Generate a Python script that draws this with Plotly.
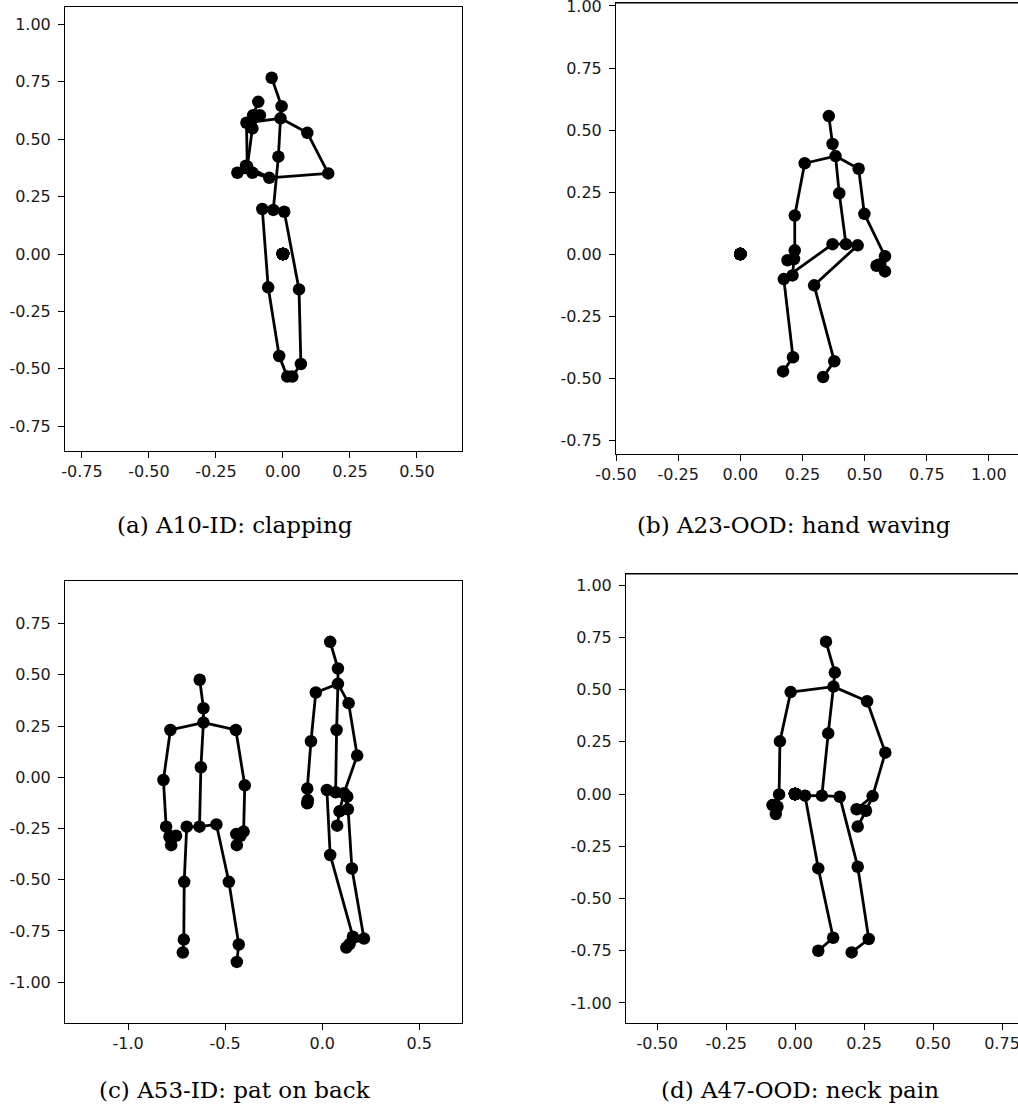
import plotly.graph_objects as go

# NTU RGB+D 25-joint skeleton bones (1-indexed joint pairs)
BONES = [(1, 2), (2, 21), (21, 3), (3, 4), (21, 5), (5, 6), (6, 7), (7, 8), (8, 22), (7, 23),
         (21, 9), (9, 10), (10, 11), (11, 12), (12, 24), (11, 25), (1, 13), (13, 14), (14, 15),
         (15, 16), (1, 17), (17, 18), (18, 19), (19, 20)]

# ---- (a) A10-ID: clapping ----
a_p1_x = [-0.036, -0.017, -0.005, -0.042, -0.136, -0.133, -0.114, -0.111, 0.091, 0.169,
          -0.051, -0.114, -0.077, -0.055, -0.014, 0.016, 0.005, 0.060, 0.067, 0.035,
          -0.009, -0.092, -0.086, -0.170, -0.138]
a_p1_y = [0.192, 0.424, 0.644, 0.768, 0.572, 0.380, 0.547, 0.605, 0.528, 0.351,
          0.332, 0.354, 0.196, -0.145, -0.444, -0.534, 0.184, -0.154, -0.479, -0.534,
          0.591, 0.663, 0.605, 0.354, 0.385]
a_p2_x = [0.0, 0.0, 0.0, 0.0, 0.0, 0.0, 0.0, 0.0, 0.0, 0.0, 0.0, 0.0, 0.0, 0.0, 0.0, 0.0,
          0.0, 0.0, 0.0, 0.0, 0.0, 0.0, 0.0, 0.0, 0.0]
a_p2_y = [0.0, 0.0, 0.0, 0.0, 0.0, 0.0, 0.0, 0.0, 0.0, 0.0, 0.0, 0.0, 0.0, 0.0, 0.0, 0.0,
          0.0, 0.0, 0.0, 0.0, 0.0, 0.0, 0.0, 0.0, 0.0]

# ---- (b) A23-OOD: hand waving ----
b_p1_x = [0.425, 0.398, 0.371, 0.356, 0.259, 0.219, 0.219, 0.216, 0.476, 0.499,
          0.582, 0.582, 0.371, 0.175, 0.212, 0.172, 0.472, 0.297, 0.378, 0.333,
          0.383, 0.210, 0.190, 0.548, 0.556]
b_p1_y = [0.040, 0.245, 0.444, 0.556, 0.366, 0.155, 0.015, -0.020, 0.344, 0.162,
          -0.009, -0.070, 0.040, -0.101, -0.416, -0.473, 0.035, -0.126, -0.432, -0.496,
          0.395, -0.086, -0.025, -0.047, -0.043]
b_p2_x = [0.0, 0.0, 0.0, 0.0, 0.0, 0.0, 0.0, 0.0, 0.0, 0.0, 0.0, 0.0, 0.0, 0.0, 0.0, 0.0,
          0.0, 0.0, 0.0, 0.0, 0.0, 0.0, 0.0, 0.0, 0.0]
b_p2_y = [0.0, 0.0, 0.0, 0.0, 0.0, 0.0, 0.0, 0.0, 0.0, 0.0, 0.0, 0.0, 0.0, 0.0, 0.0, 0.0,
          0.0, 0.0, 0.0, 0.0, 0.0, 0.0, 0.0, 0.0, 0.0]

# ---- (c) A53-ID: pat on back ----
c_p1_x = [-0.632, -0.625, -0.612, -0.631, -0.782, -0.818, -0.804, -0.787, -0.445, -0.399,
          -0.405, -0.421, -0.698, -0.711, -0.713, -0.718, -0.545, -0.481, -0.430, -0.440,
          -0.612, -0.778, -0.753, -0.440, -0.443]
c_p1_y = [-0.241, 0.049, 0.337, 0.476, 0.231, -0.013, -0.241, -0.290, 0.231, -0.039,
          -0.265, -0.285, -0.241, -0.510, -0.792, -0.855, -0.230, -0.510, -0.816, -0.901,
          0.267, -0.331, -0.285, -0.331, -0.277]
c_p2_x = [0.069, 0.074, 0.081, 0.041, -0.033, -0.058, -0.077, -0.077, 0.136, 0.180,
          0.112, 0.089, 0.024, 0.041, 0.158, 0.124, 0.129, 0.153, 0.215, 0.141,
          0.081, -0.077, -0.074, 0.077, 0.132]
c_p2_y = [-0.073, 0.231, 0.531, 0.661, 0.414, 0.176, -0.055, -0.124, 0.362, 0.106,
          -0.078, -0.166, -0.062, -0.379, -0.778, -0.831, -0.094, -0.445, -0.787, -0.814,
          0.456, -0.127, -0.111, -0.236, -0.156]

# ---- (d) A47-OOD: neck pain ----
d_p1_x = [0.097, 0.120, 0.144, 0.112, -0.016, -0.055, -0.058, -0.064, 0.261, 0.327,
          0.281, 0.257, 0.036, 0.084, 0.138, 0.084, 0.162, 0.227, 0.267, 0.205,
          0.139, -0.070, -0.082, 0.227, 0.223]
d_p1_y = [-0.008, 0.290, 0.581, 0.729, 0.488, 0.252, -0.002, -0.061, 0.444, 0.198,
          -0.010, -0.080, -0.008, -0.356, -0.688, -0.750, -0.013, -0.348, -0.694, -0.758,
          0.514, -0.096, -0.053, -0.156, -0.073]
d_p2_x = [0.0, 0.0, 0.0, 0.0, 0.0, 0.0, 0.0, 0.0, 0.0, 0.0, 0.0, 0.0, 0.0, 0.0, 0.0, 0.0,
          0.0, 0.0, 0.0, 0.0, 0.0, 0.0, 0.0, 0.0, 0.0]
d_p2_y = [0.0, 0.0, 0.0, 0.0, 0.0, 0.0, 0.0, 0.0, 0.0, 0.0, 0.0, 0.0, 0.0, 0.0, 0.0, 0.0,
          0.0, 0.0, 0.0, 0.0, 0.0, 0.0, 0.0, 0.0, 0.0]

# tick values / labels
a_xticks = [-0.75, -0.5, -0.25, 0.0, 0.25, 0.5]
a_xlabels = ["-0.75", "-0.50", "-0.25", "0.00", "0.25", "0.50"]
a_yticks = [-0.75, -0.5, -0.25, 0.0, 0.25, 0.5, 0.75, 1.0]
a_ylabels = ["-0.75", "-0.50", "-0.25", "0.00", "0.25", "0.50", "0.75", "1.00"]
b_xticks = [-0.5, -0.25, 0.0, 0.25, 0.5, 0.75, 1.0]
b_xlabels = ["-0.50", "-0.25", "0.00", "0.25", "0.50", "0.75", "1.00"]
b_yticks = [-0.75, -0.5, -0.25, 0.0, 0.25, 0.5, 0.75, 1.0]
b_ylabels = ["-0.75", "-0.50", "-0.25", "0.00", "0.25", "0.50", "0.75", "1.00"]
c_xticks = [-1.0, -0.5, 0.0, 0.5]
c_xlabels = ["-1.0", "-0.5", "0.0", "0.5"]
c_yticks = [-1.0, -0.75, -0.5, -0.25, 0.0, 0.25, 0.5, 0.75]
c_ylabels = ["-1.00", "-0.75", "-0.50", "-0.25", "0.00", "0.25", "0.50", "0.75"]
d_xticks = [-0.5, -0.25, 0.0, 0.25, 0.5, 0.75]
d_xlabels = ["-0.50", "-0.25", "0.00", "0.25", "0.50", "0.75"]
d_yticks = [-1.0, -0.75, -0.5, -0.25, 0.0, 0.25, 0.5, 0.75, 1.0]
d_ylabels = ["-1.00", "-0.75", "-0.50", "-0.25", "0.00", "0.25", "0.50", "0.75", "1.00"]

captions = ["(a) A10-ID: clapping", "(b) A23-OOD: hand waving",
            "(c) A53-ID: pat on back", "(d) A47-OOD: neck pain"]

W, H = 1018, 1107
fig = go.Figure()


def add_person(px, py, xa, ya):
    lx, ly = [], []
    for i, j in BONES:
        lx += [px[i - 1], px[j - 1], None]
        ly += [py[i - 1], py[j - 1], None]
    fig.add_trace(go.Scatter(x=lx, y=ly, mode="lines", line=dict(color="black", width=2.8),
                             xaxis=xa, yaxis=ya, hoverinfo="skip"))
    fig.add_trace(go.Scatter(x=px, y=py, mode="markers", marker=dict(color="black", size=12.5),
                             xaxis=xa, yaxis=ya))


panels = [
    ("x", "y", [(a_p1_x, a_p1_y), (a_p2_x, a_p2_y)]),
    ("x2", "y2", [(b_p1_x, b_p1_y), (b_p2_x, b_p2_y)]),
    ("x3", "y3", [(c_p1_x, c_p1_y), (c_p2_x, c_p2_y)]),
    ("x4", "y4", [(d_p1_x, d_p1_y), (d_p2_x, d_p2_y)]),
]
for xa, ya, persons in panels:
    for px, py in persons:
        add_person(px, py, xa, ya)

tickfont = dict(family="DejaVu Sans", size=16, color="#1a1a1a")


def ax(domain, rng, tv, tt, anchor, mirror=True, standoff=None):
    d = dict(domain=domain, range=rng, tickvals=tv, ticktext=tt, anchor=anchor,
             showgrid=False, zeroline=False, showline=True, linecolor="black", linewidth=1,
             mirror=mirror, ticks="outside", ticklen=6, tickwidth=1, tickcolor="black",
             tickfont=tickfont, automargin=False, fixedrange=True,
             ticklabeloverflow="allow")
    if standoff is not None:
        d["ticklabelstandoff"] = standoff
    return d


def px_(v):
    return min(1.0, v / W)


def py_(v):
    return max(0.0, min(1.0, 1 - v / H))


fig.update_layout(
    width=W, height=H, margin=dict(l=0, r=0, t=0, b=0),
    paper_bgcolor="white", plot_bgcolor="white", showlegend=False,
    xaxis=ax([px_(65), px_(462)], [-0.813, 0.668], a_xticks, a_xlabels, "y"),
    yaxis=ax([py_(451), py_(7)], [-0.858, 1.076], a_yticks, a_ylabels, "x", standoff=4),
    xaxis2=ax([px_(616), 1.0], [-0.5, 1.117], b_xticks, b_xlabels, "y2"),
    yaxis2=ax([py_(454), py_(3)], [-0.806, 1.012], b_yticks, b_ylabels, "x2", mirror=False,
              standoff=4),
    xaxis3=ax([px_(65), px_(462)], [-1.325, 0.72], c_xticks, c_xlabels, "y3"),
    yaxis3=ax([py_(1023), py_(581)], [-1.199, 0.958], c_yticks, c_ylabels, "x3", standoff=4),
    xaxis4=ax([px_(626), 1.0], [-0.613, 0.808], d_xticks, d_xlabels, "y4"),
    yaxis4=ax([py_(1023), py_(574)], [-1.096, 1.053], d_yticks, d_ylabels, "x4", mirror=False,
              standoff=4),
)

# top frame lines for the panels cut off at the right edge
fig.add_shape(type="line", xref="x2 domain", yref="y2 domain", x0=0, x1=1, y0=1, y1=1,
              line=dict(color="black", width=1.2))
fig.add_shape(type="line", xref="x4 domain", yref="y4 domain", x0=0, x1=1, y0=1, y1=1,
              line=dict(color="black", width=1.2))

cap_pos = [(235, 525), (794, 525), (235, 1090), (800, 1090)]
for text, (cx, cy) in zip(captions, cap_pos):
    fig.add_annotation(text=text, x=px_(cx), y=py_(cy), xref="paper", yref="paper",
                       xanchor="center", yanchor="middle", showarrow=False,
                       font=dict(family="DejaVu Serif", size=23, color="black"))

fig.write_html("out.html", config={"displayModeBar": False},
               post_script="document.body.style.margin='0px';document.body.style.overflow='hidden';")
